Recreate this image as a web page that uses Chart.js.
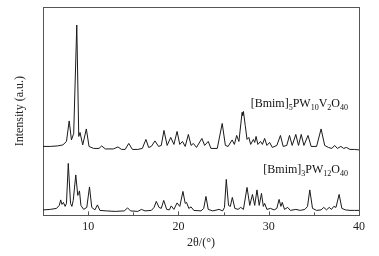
<!DOCTYPE html>
<html>
<head>
<meta charset="utf-8">
<script src="https://cdn.jsdelivr.net/npm/chart.js@4"></script>
<style>
    html, body { margin: 0; padding: 0; background: #fff; }
    canvas { display: block; }
</style>
</head>
<body>
<canvas id="chart-xrd" width="379" height="256"></canvas>
<script>
// 2theta (deg) and intensity (a.u.)
const twoThetaV = [5.0, 5.8, 6.6, 7.2, 7.6, 7.9, 8.15, 8.4, 8.74, 8.96, 9.1, 9.4, 9.8, 10.1, 10.6, 11.2, 11.5, 11.9, 12.8, 13.3, 13.7, 14.1,
    14.5, 14.9, 15.5, 16.0, 16.4, 16.7, 17.0, 17.4, 17.8, 18.1, 18.4, 18.75, 19.15, 19.5, 19.85, 20.15, 20.45, 20.75, 21.1, 21.4,
    21.65, 22.0, 22.6, 22.9, 23.3, 23.6, 24.3, 24.85, 25.2, 25.5, 25.95, 26.2, 26.45, 26.7, 27.05, 27.12, 27.2, 27.4, 27.6, 27.8,
    28.0, 28.3, 28.45, 28.6, 28.8, 29.1, 29.3, 29.55, 29.8, 30.1, 30.4, 30.9, 31.3, 31.6, 32.0, 32.3, 32.6, 33.0, 33.3, 33.6, 33.9,
    34.35, 34.7, 35.3, 35.8, 36.2, 36.6, 37.0, 37.3, 37.6, 38.0, 38.3, 38.6, 39.0, 39.5, 40.0];
const intensityV = [69, 69, 69.5, 70.5, 74, 94.5, 75.5, 82, 190.5, 79, 83, 70.5, 86.5, 69, 67, 67, 69.5, 66.5, 66.5, 68.5, 66, 66,
    72, 66, 66, 67, 76, 68, 69, 74.5, 69, 70, 85, 70, 78, 71, 84, 71, 74, 69, 81, 70,
    72, 68, 77, 70, 74, 67, 67, 92, 70, 69, 75.5, 71, 80, 74, 103, 100, 104, 90, 76, 78,
    71, 76, 73, 79, 71, 74, 71, 77, 70, 73, 68, 70, 80, 69, 70, 80, 70, 81, 70, 81, 70,
    80, 69, 69, 86.5, 70, 68, 67, 70, 67, 69, 67, 68, 66, 66, 65.5];

const twoThetaW = [5.0, 5.8, 6.5, 6.8, 6.96, 7.1, 7.26, 7.45, 7.6, 7.8, 8.05, 8.2, 8.35, 8.63, 8.85, 8.95, 9.04, 9.2, 9.5, 9.85, 10.15,
    10.4, 10.75, 11.03, 11.3, 12.0, 13.0, 14.0, 14.37, 14.7, 15.5, 15.9, 16.3, 17.0, 17.3, 17.55, 17.85, 18.1, 18.37, 18.7, 19.0,
    19.2, 19.5, 19.85, 20.15, 20.5, 20.75, 20.9, 21.15, 21.4, 21.7, 22.5, 22.8, 23.05, 23.3, 23.8, 24.5, 24.9, 25.1, 25.3, 25.55,
    25.75, 25.97, 26.25, 26.6, 26.9, 27.2, 27.6, 27.9, 28.2, 28.45, 28.7, 28.95, 29.2, 29.4, 29.55, 29.8, 30.2, 30.6, 30.9, 31.15,
    31.35, 31.5, 31.75, 32.1, 32.4, 33.0, 33.5, 34.0, 34.3, 34.55, 34.85, 35.3, 35.8, 36.1, 36.4, 36.7, 36.95, 37.2, 37.45, 37.8,
    38.1, 38.5, 39.0, 39.5, 40.0];
const intensityW = [5.5, 6, 7, 10, 15.5, 11, 13, 9, 12, 52, 12, 9, 15, 40.5, 20, 22, 24.5, 10, 6, 8, 28.5,
    8, 5.5, 10.5, 5, 4.5, 4, 4.5, 7.5, 4.5, 4, 6, 4.5, 5, 8, 14, 8, 7, 15, 6, 5.5,
    9.5, 6, 12.5, 9, 24, 12, 13, 7, 8.5, 5, 4.5, 7, 19, 6, 4.5, 6, 4.5, 8, 36, 10,
    9, 18, 7, 6, 8, 6, 28, 10, 21, 10, 25.5, 10, 22, 9, 12, 6, 7, 5.5, 7, 16,
    9, 13, 6, 8, 5, 6, 5, 6, 9, 25.5, 7, 5, 5.5, 8, 5.5, 8, 6, 9, 8, 21,
    7, 5.5, 5, 5, 5];

const xTickValues = [10, 20, 30, 40];
const xMinorTicks = [5, 10, 15, 20, 25, 30, 35, 40];

const serif = '"Liberation Serif", "Times New Roman", serif';
const axisColor = '#555';

function toPoints(xs, ys) {
    return xs.map((x, i) => ({ x: x, y: ys[i] }));
}

// small inward tick marks on the bottom axis
const innerTicks = {
    id: 'innerTicks',
    afterDatasetsDraw(chart) {
        const ctx = chart.ctx;
        const x = chart.scales.x;
        const bottom = chart.chartArea.bottom;
        ctx.save();
        ctx.strokeStyle = axisColor;
        ctx.lineWidth = 1;
        xMinorTicks.forEach(function (v) {
            const px = Math.round(x.getPixelForValue(v)) + 0.5;
            const len = v % 10 === 0 ? 4 : 3;
            ctx.beginPath();
            ctx.moveTo(px, bottom);
            ctx.lineTo(px, bottom - len);
            ctx.stroke();
        });
        ctx.restore();
    },
};

// series names with subscripts
const formulaLabels = {
    id: 'formulaLabels',
    afterDatasetsDraw(chart, args, opts) {
        const ctx = chart.ctx;
        const xs = chart.scales.x;
        const ys = chart.scales.y;
        ctx.save();
        ctx.fillStyle = '#111';
        ctx.textBaseline = 'alphabetic';
        opts.items.forEach(function (item) {
            let px = xs.getPixelForValue(item.x);
            const py = ys.getPixelForValue(item.y);
            item.parts.forEach(function (part) {
                const sub = typeof part !== 'string';
                const text = sub ? part.sub : part;
                ctx.font = (sub ? '8px ' : '12px ') + serif;
                ctx.fillText(text, px, sub ? py + 3 : py);
                px += ctx.measureText(text).width;
            });
        });
        ctx.restore();
    },
};

const hiddenGrid = { display: false, drawTicks: false };

new Chart(document.getElementById('chart-xrd').getContext('2d'), {
    type: 'line',
    data: {
        datasets: [
            {
                label: '[Bmim]5PW10V2O40',
                data: toPoints(twoThetaV, intensityV),
                borderColor: '#1a1a1a',
                borderWidth: 1,
                pointRadius: 0,
                tension: 0,
                fill: false,
            },
            {
                label: '[Bmim]3PW12O40',
                data: toPoints(twoThetaW, intensityW),
                borderColor: '#1a1a1a',
                borderWidth: 1,
                pointRadius: 0,
                tension: 0,
                fill: false,
            },
        ],
    },
    plugins: [innerTicks, formulaLabels],
    options: {
        responsive: false,
        animation: false,
        devicePixelRatio: 1,
        layout: {
            padding: { top: 7, right: 20, bottom: 0, left: 0 },
        },
        plugins: {
            legend: { display: false },
            tooltip: { enabled: false },
            formulaLabels: {
                items: [
                    { x: 28.0, y: 108.5, parts: ['[Bmim]', { sub: '5' }, 'PW', { sub: '10' }, 'V', { sub: '2' }, 'O', { sub: '40' }] },
                    { x: 29.4, y: 42.5, parts: ['[Bmim]', { sub: '3' }, 'PW', { sub: '12' }, 'O', { sub: '40' }] },
                ],
            },
        },
        scales: {
            x: {
                type: 'linear',
                position: 'bottom',
                min: 5,
                max: 40,
                afterBuildTicks: function (scale) {
                    scale.ticks = xTickValues.map(v => ({ value: v }));
                },
                ticks: {
                    autoSkip: false,
                    maxRotation: 0,
                    padding: 4.5,
                    color: '#222',
                    font: { family: serif, size: 12 },
                },
                grid: hiddenGrid,
                border: { color: axisColor, width: 1 },
                title: {
                    display: true,
                    text: '2θ/(°)',
                    color: '#222',
                    font: { family: serif, size: 12 },
                    padding: { top: -3, bottom: 5.8 },
                },
            },
            x2: {
                type: 'linear',
                position: 'top',
                min: 5,
                max: 40,
                ticks: { display: false },
                grid: hiddenGrid,
                border: { color: axisColor, width: 1 },
            },
            y: {
                type: 'linear',
                position: 'left',
                min: 0,
                max: 208.5,
                ticks: { display: false },
                grid: hiddenGrid,
                border: { color: axisColor, width: 1 },
                title: {
                    display: true,
                    text: 'Intensity (a.u.)',
                    color: '#222',
                    font: { family: serif, size: 12 },
                    padding: { top: 12.8, bottom: 15.8 },
                },
            },
            y2: {
                type: 'linear',
                position: 'right',
                min: 0,
                max: 208.5,
                ticks: { display: false },
                grid: hiddenGrid,
                border: { color: axisColor, width: 1 },
            },
        },
    },
});
</script>
</body>
</html>
